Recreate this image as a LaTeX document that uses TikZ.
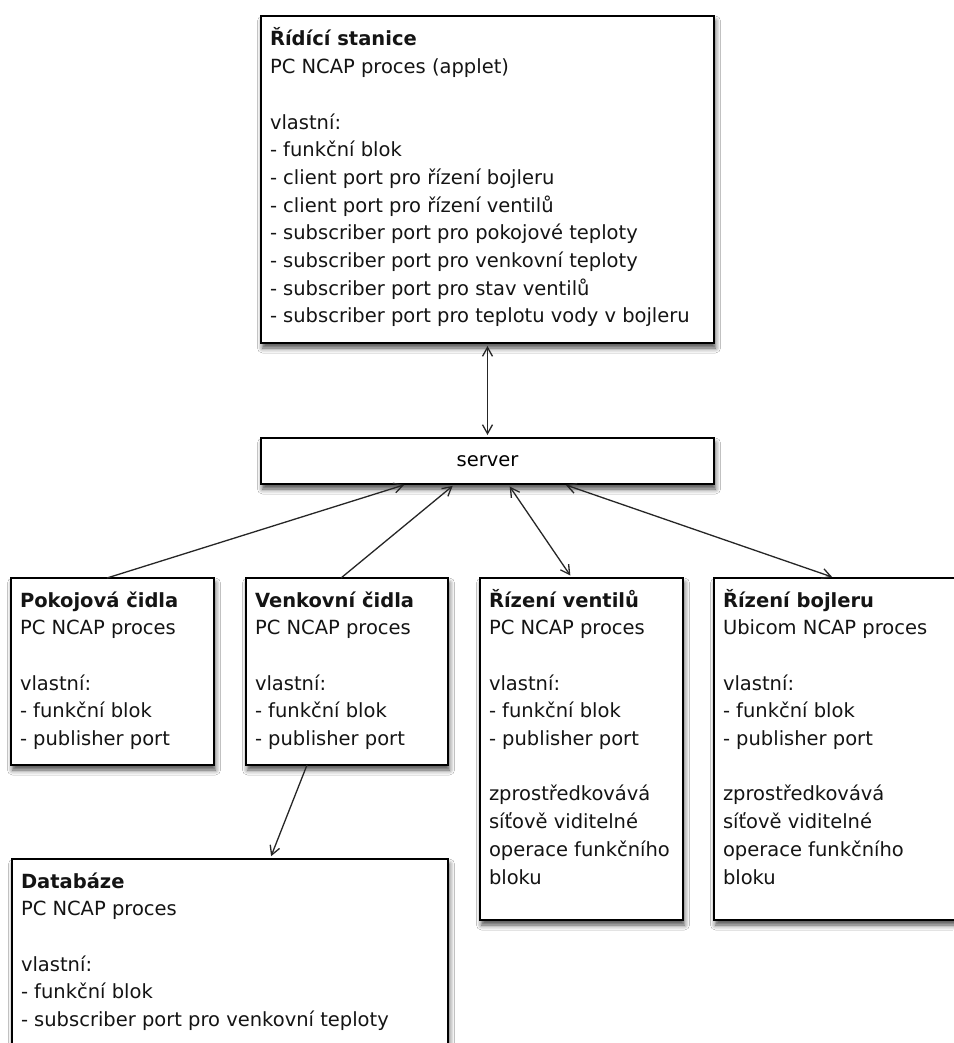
\documentclass[tikz,border=0pt]{standalone}
\usepackage{fontspec}
\setmainfont{DejaVu Sans}
\usetikzlibrary{arrows.meta,shadows.blur}

% block of left-aligned lines whose baseline is the first line's baseline
\newcommand{\blocklines}[1]{\parbox[t]{440pt}{\raggedright\fontsize{19.5}{27.7}\selectfont #1}}
\newcommand{\gapline}{\\[27.7pt]}

\tikzset{
  blk/.style={draw=black, line width=1.4pt, fill=white, inner sep=0pt, outer sep=0pt,
    anchor=north west,
    blur shadow={shadow xshift=1.5pt, shadow yshift=-5pt, shadow blur radius=5pt, shadow opacity=70}},
  txt/.style={anchor=base west, inner sep=0pt, outer sep=0pt, text=black!92},
  link/.style={draw=black!85, line width=1.3pt},
  >={Straight Barb[length=9pt,width=10pt]}
}

\begin{document}
\begin{tikzpicture}[x=1pt,y=-1pt]
\path[use as bounding box, fill=white] (0,0) rectangle (953,1043);

% boxes
\node[blk, minimum width=453pt, minimum height=327pt] (top) at (261,16) {};
\node[blk, minimum width=453pt, minimum height=46pt, font=\fontsize{19.5}{24}\selectfont] (srv) at (261,438) {server};
\node[blk, minimum width=203pt, minimum height=187pt] (pok) at (11,578) {};
\node[blk, minimum width=202pt, minimum height=187pt] (ven) at (246,578) {};
\node[blk, minimum width=203pt, minimum height=342pt] (vnt) at (480,578) {};
\node[blk, minimum width=244pt, minimum height=342pt] (boj) at (714,578) {};
\node[blk, minimum width=436pt, minimum height=220pt] (dbs) at (12,859) {};

% box texts
\node[txt] (topT) at (270,46) {\blocklines{\textbf{Řídící stanice}\\PC NCAP proces (applet)\gapline
vlastní:\\- funkční blok\\- client port pro řízení bojleru\\- client port pro řízení ventilů\\
- subscriber port pro pokojové teploty\\- subscriber port pro venkovní teploty\\
- subscriber port pro stav ventilů\\- subscriber port pro teplotu vody v bojleru}};

\node[txt] (pokT) at (20,607) {\blocklines{\textbf{Pokojová čidla}\\PC NCAP proces\gapline
vlastní:\\- funkční blok\\- publisher port}};

\node[txt] (venT) at (255,607) {\blocklines{\textbf{Venkovní čidla}\\PC NCAP proces\gapline
vlastní:\\- funkční blok\\- publisher port}};

\node[txt] (vntT) at (489,607) {\blocklines{\textbf{Řízení ventilů}\\PC NCAP proces\gapline
vlastní:\\- funkční blok\\- publisher port\gapline
zprostředkovává\\síťově viditelné\\operace funkčního\\bloku}};

\node[txt] (bojT) at (723,607) {\blocklines{\textbf{Řízení bojleru}\\Ubicom NCAP proces\gapline
vlastní:\\- funkční blok\\- publisher port\gapline
zprostředkovává\\síťově viditelné\\operace funkčního\\bloku}};

\node[txt] (dbsT) at (21,888) {\blocklines{\textbf{Databáze}\\PC NCAP proces\gapline
vlastní:\\- funkční blok\\- subscriber port pro venkovní teploty}};

% connectors
\draw[link,<->,shorten <=3pt,shorten >=3pt] (top.south) -- (srv.north);
\draw[link,->,shorten >=3pt] ([xshift=96pt]pok.north west) -- ([xshift=146pt]srv.south west);
\draw[link,->,shorten >=3pt] ([xshift=95pt]ven.north west) -- ([xshift=194pt]srv.south west);
\draw[link,<->,shorten <=3pt,shorten >=3pt] ([xshift=247pt]srv.south west) -- ([xshift=92pt]vnt.north west);
\draw[link,<->,shorten <=3pt,shorten >=3pt] ([xshift=302pt]srv.south west) -- ([xshift=121pt]boj.north west);
\draw[link,->,shorten >=3pt] ([xshift=61pt]ven.south west) -- ([xshift=258pt]dbs.north west);
\end{tikzpicture}
\end{document}
